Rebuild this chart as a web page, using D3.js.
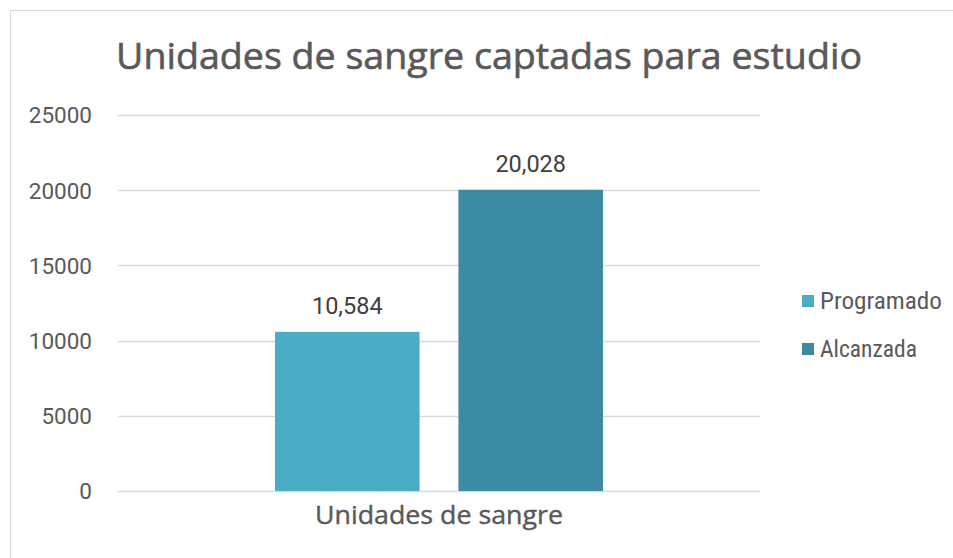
<!DOCTYPE html>
<html>
<head>
<meta charset="utf-8">
<script src="https://cdn.jsdelivr.net/npm/d3@7/dist/d3.min.js"></script>
<style>
  html, body { margin: 0; padding: 0; background: #fff; }
  svg { display: block; }
  text { font-family: Roboto, "Liberation Sans", sans-serif; }
</style>
</head>
<body>
<svg id="chart" width="953" height="558"></svg>
<script>
const title = "Unidades de sangre captadas para estudio";
const categories = ["Unidades de sangre"];
const seriesNames = ["Programado", "Alcanzada"];
const seriesValues = [10584, 20028];
const seriesColors = ["#4BACC6", "#3B8CA3"];
const yTicks = [0, 5000, 10000, 15000, 20000, 25000];

const svg = d3.select("#chart");
const W = 953, H = 558;

// outer frame
svg.append("rect").attr("x", 10.5).attr("y", 10.5).attr("width", W).attr("height", H)
  .attr("fill", "#fff").attr("stroke", "#d9d9d9").attr("stroke-width", 1);

const plot = { left: 118, right: 760, top: 115, bottom: 491 };

const x0 = d3.scaleBand().domain(categories).range([plot.left, plot.right]).paddingInner(0).paddingOuter(0);
const groupWidth = 328;
const x1 = d3.scaleBand().domain(seriesNames).range([0, groupWidth]).paddingInner(39 / 184).paddingOuter(0);
const y = d3.scaleLinear().domain([0, 25000]).range([plot.bottom, plot.top]);

// gridlines
svg.append("g").selectAll("line").data(yTicks).join("line")
  .attr("x1", plot.left).attr("x2", plot.right)
  .attr("y1", d => Math.round(y(d)) + 0.5).attr("y2", d => Math.round(y(d)) + 0.5)
  .attr("stroke", "#d9d9d9").attr("stroke-width", 1.5);

// y axis labels
const yAxis = d3.axisLeft(y).tickValues(yTicks).tickSize(0).tickPadding(0).tickFormat(d3.format("d"));
const ya = svg.append("g").attr("transform", `translate(92,0)`).call(yAxis);
ya.select(".domain").remove();
ya.selectAll("text").attr("fill", "#595959").style("font-size", "22.5px")
  .style("font-family", "Roboto, sans-serif").attr("dy", "0.35em");

// bars
const groups = svg.append("g").selectAll("g").data(categories).join("g")
  .attr("transform", d => `translate(${x0(d) + (x0.bandwidth() - groupWidth) / 2},0)`);

const barData = seriesNames.map((s, i) => ({ s, v: seriesValues[i], c: seriesColors[i] }));
groups.selectAll("rect").data(barData).join("rect")
  .attr("x", d => x1(d.s)).attr("width", x1.bandwidth())
  .attr("y", d => y(d.v)).attr("height", d => y(0) - y(d.v))
  .attr("fill", d => d.c);

groups.selectAll("text.lbl").data(barData).join("text").attr("class", "lbl")
  .attr("x", d => x1(d.s) + x1.bandwidth() / 2)
  .attr("y", d => y(d.v) - 18)
  .attr("text-anchor", "middle")
  .attr("fill", "#404040").style("font-size", "23.5px")
  .text(d => d3.format(",")(d.v));

// category axis label
svg.append("g").selectAll("text").data(categories).join("text")
  .attr("x", d => x0(d) + x0.bandwidth() / 2).attr("y", 524)
  .attr("text-anchor", "middle").attr("fill", "#595959")
  .attr("stroke", "#595959").attr("stroke-width", 0.4)
  .style("font-family", "'Open Sans', sans-serif").style("font-size", "25px")
  .attr("textLength", 248).attr("lengthAdjust", "spacingAndGlyphs")
  .text(d => d);

// title
svg.append("text").attr("x", 489).attr("y", 69).attr("text-anchor", "middle")
  .attr("fill", "#595959").attr("stroke", "#595959").attr("stroke-width", 0.6)
  .style("font-family", "'Open Sans', sans-serif")
  .style("font-size", "36.5px")
  .attr("textLength", 746).attr("lengthAdjust", "spacingAndGlyphs")
  .text(title);

// legend
const legend = svg.append("g").selectAll("g").data(barData).join("g")
  .attr("transform", (d, i) => `translate(802,${295 + i * 48})`);
legend.append("rect").attr("width", 12).attr("height", 12).attr("fill", d => d.c);
legend.append("text").attr("x", 18).attr("y", 14).attr("fill", "#595959")
  .style("font-family", "'Liberation Sans Narrow', 'Roboto Condensed', 'DejaVu Sans Condensed', sans-serif")
  .style("font-size", "24px")
  .attr("textLength", d => d.s === "Programado" ? 122 : 97)
  .attr("lengthAdjust", "spacingAndGlyphs")
  .text(d => d.s);
</script>
</body>
</html>
